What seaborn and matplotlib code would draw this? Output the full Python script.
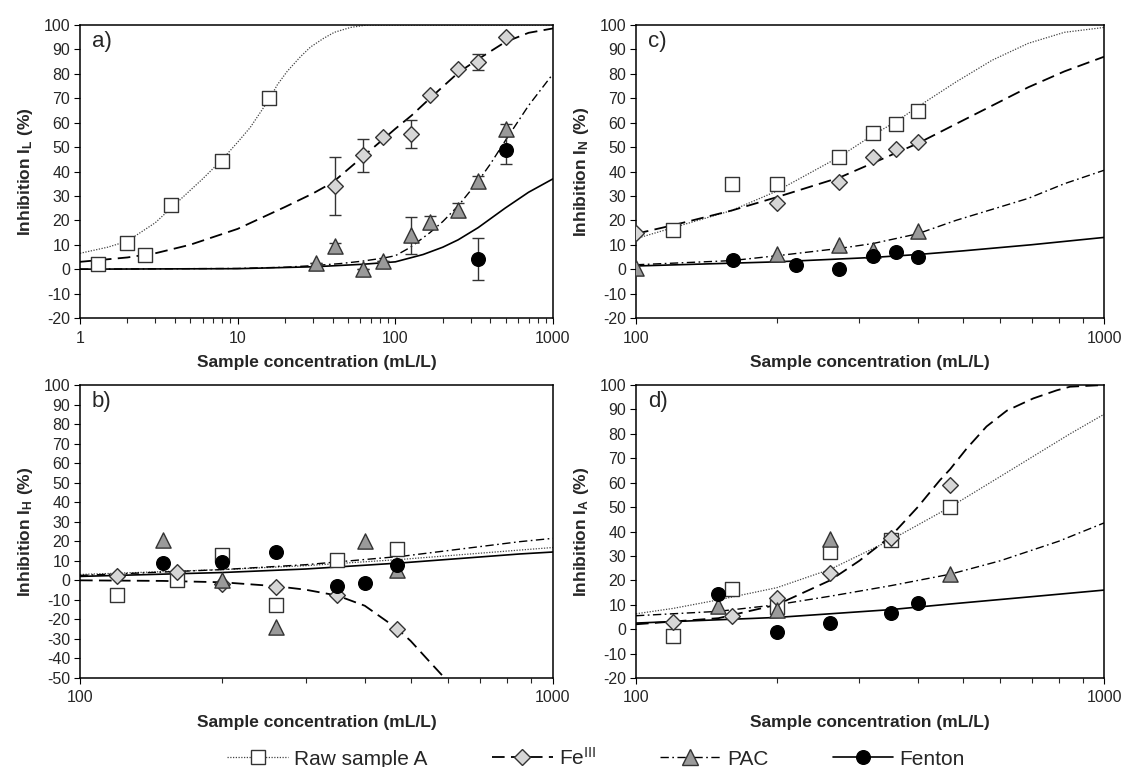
import matplotlib
matplotlib.use("Agg")
import matplotlib.pyplot as plt
from matplotlib.lines import Line2D
from matplotlib.ticker import LogLocator, FuncFormatter, NullFormatter, MultipleLocator
import seaborn as sns

# ---------------- data: panel a (I_L) ----------------
A_RAW_X = [1.3, 2, 2.6, 3.8, 7.9, 15.8]
A_RAW_Y = [2, 10.7, 5.8, 26.3, 44.5, 70]
A_RAW_ERR = [0, 2, 0, 0, 0, 0]
A_FE_X = [41.7, 62.5, 83.3, 125, 166.7, 250, 333, 500]
A_FE_Y = [34, 46.6, 54.2, 55.4, 71.5, 81.8, 84.8, 95.2]
A_FE_ERR = [11.8, 6.9, 0, 5.8, 0, 0, 3.4, 0]
A_PAC_X = [31.25, 41.7, 62.5, 83.3, 125, 166.7, 250, 333, 500]
A_PAC_Y = [2.6, 9.3, 0.1, 3.3, 13.8, 19.2, 24.4, 36.2, 57.6]
A_PAC_ERR = [0, 1.5, 0, 0, 7.4, 2.5, 2.6, 1.8, 1.8]
A_FEN_X = [333, 500]
A_FEN_Y = [4.1, 48.7]
A_FEN_ERR = [8.6, 5.8]

A_RAW_CX = [1, 1.5, 2, 3, 4, 6, 8, 10, 12, 16, 17.8, 20.6, 25, 29, 35, 41, 52, 66, 1000]
A_RAW_CY = [6.5, 9, 11.5, 19, 26.5, 37, 45, 52, 58, 70, 75.4, 81, 87, 91, 94.5, 97, 99, 100, 100]
A_FE_CX = [1, 2, 3, 5, 10, 20, 30, 40, 62, 83, 100, 127, 166, 251, 335, 497, 700, 1000]
A_FE_CY = [3, 4.8, 6.5, 10, 16.5, 25.5, 31, 35.5, 46, 53, 57.5, 63, 70, 80.5, 86, 93, 96.8, 98.6]
A_PAC_CX = [1, 10, 20, 31, 45, 62, 83, 100, 125, 166, 200, 251, 335, 400, 497, 700, 1000]
A_PAC_CY = [0, 0.3, 0.8, 1.5, 2.3, 3.3, 4.5, 5.5, 9, 15, 19.5, 26, 36, 43, 52.5, 67, 80]
A_FEN_CX = [1, 10, 31, 62, 100, 150, 200, 250, 335, 497, 700, 1000]
A_FEN_CY = [0, 0.2, 1, 2, 3, 6, 9, 12, 17, 25, 31.5, 37]

# ---------------- data: panel b (I_H) ----------------
B_RAW_X = [120, 160, 200, 260, 350, 467]
B_RAW_Y = [-7.7, 0.3, 13.1, -12.8, 10.2, 16]
B_FE_X = [120, 160, 200, 260, 350, 467]
B_FE_Y = [2.3, 4.2, -1.9, -3.6, -7.5, -24.9]
B_PAC_X = [150, 200, 260, 400, 467]
B_PAC_Y = [20.7, 0, -23.9, 19.9, 5.4]
B_FEN_X = [150, 200, 260, 350, 400, 467]
B_FEN_Y = [9, 9.3, 14.4, -3, -1.6, 8]

B_RAW_CX = [100, 200, 300, 483, 851, 1000]
B_RAW_CY = [3, 5.5, 7.5, 10.8, 15.5, 16.8]
B_FE_CX = [100, 150, 200, 260, 300, 350, 400, 467, 500, 550, 590, 620]
B_FE_CY = [0, -0.3, -1, -3, -4.8, -7.8, -13, -24.5, -31, -42, -50, -58]
B_PAC_CX = [100, 200, 300, 483, 851, 1000]
B_PAC_CY = [2.5, 5.5, 8, 12.4, 19.8, 21.5]
B_FEN_CX = [100, 200, 300, 483, 851, 1000]
B_FEN_CY = [2, 4, 5.8, 9, 13.5, 14.5]

# ---------------- data: panel c (I_N) ----------------
C_RAW_X = [120, 160, 200, 272, 321, 360, 400]
C_RAW_Y = [16.2, 35, 34.7, 46.1, 55.8, 59.4, 64.6]
C_FE_X = [100, 200, 272, 321, 360, 400]
C_FE_Y = [14.7, 27.3, 35.8, 46.1, 49.4, 52.1]
C_PAC_X = [100, 200, 272, 321, 400]
C_PAC_Y = [0.5, 6.4, 9.7, 8, 15.6]
C_FEN_X = [161, 220, 272, 321, 360, 400]
C_FEN_Y = [3.6, 1.6, 0.1, 5.2, 7.1, 4.9]

C_RAW_CX = [100, 120, 160, 200, 272, 321, 360, 400, 483, 577, 689, 823, 1000]
C_RAW_CY = [12.5, 17, 24, 32, 46, 55, 60.5, 66.5, 76.7, 85.6, 92.5, 97, 99]
C_FE_CX = [100, 120, 160, 200, 272, 321, 400, 483, 577, 689, 823, 1000]
C_FE_CY = [14.5, 18, 24, 29.5, 37.5, 43.5, 51.5, 59.5, 67, 74.5, 81, 87]
C_PAC_CX = [100, 160, 200, 272, 321, 400, 483, 577, 689, 823, 1000]
C_PAC_CY = [1.8, 3.5, 5.5, 8.5, 10.5, 14.5, 20, 24.5, 29, 35, 40.5]
C_FEN_CX = [100, 200, 321, 400, 500, 700, 1000]
C_FEN_CY = [1.3, 3, 4.8, 6, 7.5, 10, 13]

# ---------------- data: panel d (I_A) ----------------
D_RAW_X = [120, 160, 200, 260, 350, 469]
D_RAW_Y = [-2.6, 16.5, 9, 31.8, 36.7, 49.9]
D_FE_X = [120, 160, 200, 260, 350, 469]
D_FE_Y = [2.8, 5.5, 12.8, 23.1, 37.4, 59]
D_PAC_X = [150, 200, 260, 469]
D_PAC_Y = [9.4, 8, 37.1, 22.4]
D_FEN_X = [150, 200, 260, 350, 400]
D_FEN_Y = [14.3, -1, 2.4, 6.5, 10.8]

D_RAW_CX = [100, 120, 150, 200, 260, 350, 469, 600, 846, 1000]
D_RAW_CY = [6.3, 8.5, 12, 17, 24.5, 36.5, 50, 62.5, 80, 88]
D_FE_CX = [100, 150, 200, 260, 300, 350, 400, 446, 469, 509, 561, 620, 706, 792, 846, 1000]
D_FE_CY = [2, 4.5, 10, 20, 28, 38, 50, 61, 65.5, 74, 83, 89.5, 94.5, 97.8, 99.3, 100]
D_PAC_CX = [100, 150, 200, 260, 350, 469, 600, 800, 1000]
D_PAC_CY = [5.5, 7.3, 10, 13.5, 17.8, 22.5, 28, 36, 43.5]
D_FEN_CX = [100, 200, 350, 469, 700, 1000]
D_FEN_CY = [2.5, 4.8, 8, 10.3, 13.3, 16]

LEGEND_LABELS = ["Raw sample A", r"Fe$^{\mathrm{III}}$", "PAC", "Fenton"]
PANEL_LABELS = ["a)", "b)", "c)", "d)"]
Y_LABELS = [r"Inhibition I$_{\mathbf{L}}$ (%)", r"Inhibition I$_{\mathbf{H}}$ (%)",
            r"Inhibition I$_{\mathbf{N}}$ (%)", r"Inhibition I$_{\mathbf{A}}$ (%)"]
X_LABEL = "Sample concentration (mL/L)"

# ---------------- style ----------------
sns.set_style("ticks")
plt.rcParams["font.family"] = ["Liberation Sans", "DejaVu Sans"]
plt.rcParams["mathtext.fontset"] = "custom"
plt.rcParams["mathtext.rm"] = "Liberation Sans"
plt.rcParams["mathtext.bf"] = "Liberation Sans:bold"
plt.rcParams["mathtext.it"] = "Liberation Sans:italic"
plt.rcParams["axes.unicode_minus"] = False

EDGE = "#333333"
STY = {
    "raw": dict(marker="s", s=98, face="white", ls=(0, (1, 1.2)), lw=0.9, lc="#444444"),
    "fe": dict(marker="D", s=64, face="#d6d6d6", ls=(0, (7, 3.5)), lw=1.3, lc="black"),
    "pac": dict(marker="^", s=120, face="#9a9a9a", ls=(0, (6, 2.5, 1.2, 2.5)), lw=1.0, lc="black"),
    "fen": dict(marker="o", s=96, face="black", ls="-", lw=1.2, lc="black"),
}

fig = plt.figure(figsize=(11.27, 7.67), dpi=100)
W, H = 1127.0, 767.0
ax_a = fig.add_axes([80 / W, 1 - 318 / H, 473 / W, 293 / H])
ax_c = fig.add_axes([636 / W, 1 - 318 / H, 468 / W, 293 / H])
ax_b = fig.add_axes([80 / W, 1 - 678 / H, 473 / W, 293 / H])
ax_d = fig.add_axes([636 / W, 1 - 678 / H, 468 / W, 293 / H])


def draw_series(ax, key, cx, cy, x, y, err=None):
    st = STY[key]
    ax.set_xscale("log")
    sns.lineplot(x=cx, y=cy, ax=ax, color=st["lc"], linestyle=st["ls"], lw=st["lw"],
                 estimator=None, sort=False, zorder=2)
    if err is not None and any(e > 0 for e in err):
        ax.errorbar(x, y, yerr=err, fmt="none", ecolor=EDGE, elinewidth=1.0,
                    capsize=4, capthick=1.0, zorder=2.5)
    sns.scatterplot(x=x, y=y, ax=ax, marker=st["marker"], s=st["s"], color=st["face"],
                    edgecolor=EDGE if key != "fen" else "black", linewidth=1.0, zorder=3)


def fmt_axis(ax, xmin, ymin, ylabel, letter):
    ax.set_xscale("log")
    ax.set_xlim(xmin, 1000)
    ax.set_ylim(ymin, 100)
    ax.yaxis.set_major_locator(MultipleLocator(10))
    ax.xaxis.set_major_locator(LogLocator(base=10, numticks=10))
    ax.xaxis.set_minor_locator(LogLocator(base=10, subs=range(2, 10), numticks=20))
    ax.xaxis.set_major_formatter(FuncFormatter(lambda v, p: f"{v:g}"))
    ax.xaxis.set_minor_formatter(NullFormatter())
    ax.tick_params(axis="both", which="major", direction="out", length=4, width=0.8,
                   labelsize=11.5, pad=3, color="black")
    ax.tick_params(axis="x", which="major", pad=5)
    ax.tick_params(axis="x", which="minor", direction="out", length=3.5, width=0.8)
    for sp in ax.spines.values():
        sp.set_visible(True)
        sp.set_linewidth(1.1)
        sp.set_color("black")
    ax.set_xlabel(X_LABEL, fontsize=12.5, fontweight="bold", labelpad=7)
    ax.set_ylabel(ylabel, fontsize=12.5, fontweight="bold", labelpad=6)
    ax.text(0.025, 0.945, letter, transform=ax.transAxes, fontsize=16, va="center", ha="left")
    ax.grid(False)


# panel a
draw_series(ax_a, "raw", A_RAW_CX, A_RAW_CY, A_RAW_X, A_RAW_Y, A_RAW_ERR)
draw_series(ax_a, "fe", A_FE_CX, A_FE_CY, A_FE_X, A_FE_Y, A_FE_ERR)
draw_series(ax_a, "pac", A_PAC_CX, A_PAC_CY, A_PAC_X, A_PAC_Y, A_PAC_ERR)
draw_series(ax_a, "fen", A_FEN_CX, A_FEN_CY, A_FEN_X, A_FEN_Y, A_FEN_ERR)
fmt_axis(ax_a, 1, -20, Y_LABELS[0], PANEL_LABELS[0])

# panel b
draw_series(ax_b, "raw", B_RAW_CX, B_RAW_CY, B_RAW_X, B_RAW_Y)
draw_series(ax_b, "fe", B_FE_CX, B_FE_CY, B_FE_X, B_FE_Y)
draw_series(ax_b, "pac", B_PAC_CX, B_PAC_CY, B_PAC_X, B_PAC_Y)
draw_series(ax_b, "fen", B_FEN_CX, B_FEN_CY, B_FEN_X, B_FEN_Y)
fmt_axis(ax_b, 100, -50, Y_LABELS[1], PANEL_LABELS[1])

# panel c
draw_series(ax_c, "raw", C_RAW_CX, C_RAW_CY, C_RAW_X, C_RAW_Y)
draw_series(ax_c, "fe", C_FE_CX, C_FE_CY, C_FE_X, C_FE_Y)
draw_series(ax_c, "pac", C_PAC_CX, C_PAC_CY, C_PAC_X, C_PAC_Y)
draw_series(ax_c, "fen", C_FEN_CX, C_FEN_CY, C_FEN_X, C_FEN_Y)
fmt_axis(ax_c, 100, -20, Y_LABELS[2], PANEL_LABELS[2])

# panel d
draw_series(ax_d, "raw", D_RAW_CX, D_RAW_CY, D_RAW_X, D_RAW_Y)
draw_series(ax_d, "fe", D_FE_CX, D_FE_CY, D_FE_X, D_FE_Y)
draw_series(ax_d, "pac", D_PAC_CX, D_PAC_CY, D_PAC_X, D_PAC_Y)
draw_series(ax_d, "fen", D_FEN_CX, D_FEN_CY, D_FEN_X, D_FEN_Y)
fmt_axis(ax_d, 100, -20, Y_LABELS[3], PANEL_LABELS[3])

# legend
handles = []
for key in ["raw", "fe", "pac", "fen"]:
    st = STY[key]
    msize = {"raw": 9.9, "fe": 8.0, "pac": 11.0, "fen": 9.8}[key]
    handles.append(Line2D([0], [0], color=st["lc"], linestyle=st["ls"], lw=st["lw"],
                          marker=st["marker"], markersize=msize, markerfacecolor=st["face"],
                          markeredgecolor=EDGE if key != "fen" else "black", markeredgewidth=1.0))
fig.legend(handles, LEGEND_LABELS, loc="center", bbox_to_anchor=(0.529, 0.012), ncol=4,
           frameon=False, fontsize=15, handlelength=2.9, handletextpad=0.3,
           columnspacing=3.1, borderpad=0, borderaxespad=0)

fig.savefig("out.png", dpi=100, facecolor="white")
